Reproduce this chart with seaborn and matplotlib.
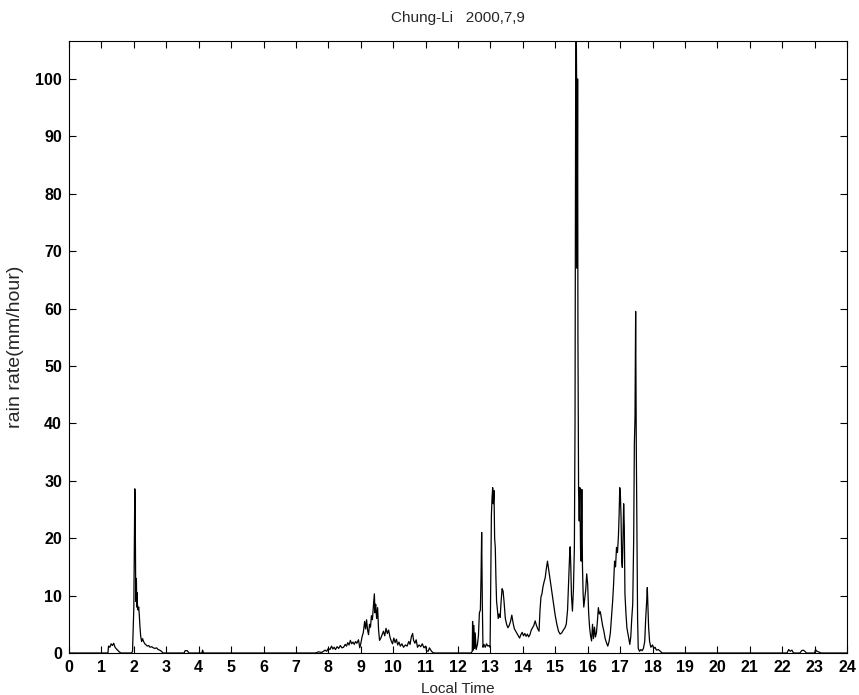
import matplotlib
matplotlib.use("Agg")
import matplotlib.pyplot as plt
import numpy as np
import pandas as pd
import seaborn as sns

# Rain-rate record, Chung-Li, 9 July 2000 (local time in hours, rate in mm/hour)
quiet_start_time = [0.00, 1.05, 1.20]
quiet_start_rate = [0.0, 0.0, 0.0]

early_shower_time = [1.22, 1.26, 1.30, 1.34, 1.38, 1.42, 1.48, 1.55, 1.60]
early_shower_rate = [1.2, 1.0, 1.6, 1.3, 1.7, 1.0, 0.6, 0.2, 0.0]

night_storm_time = [1.93, 1.96, 1.98, 2.00, 2.02, 2.03, 2.04, 2.05, 2.06, 2.07,
                    2.08, 2.09, 2.10, 2.11, 2.13, 2.15, 2.17, 2.19, 2.21, 2.24,
                    2.27, 2.30, 2.34, 2.38, 2.42, 2.46, 2.50, 2.55, 2.60, 2.65,
                    2.70, 2.75, 2.80, 2.85, 2.90]
night_storm_rate = [0.0, 0.3, 4.5, 8.0, 22.0, 28.6, 27.0, 18.0, 9.0, 13.0,
                    12.5, 8.0, 10.5, 8.5, 7.5, 8.0, 6.5, 4.5, 3.0, 2.0,
                    2.5, 2.0, 1.6, 1.4, 1.2, 1.3, 1.0, 1.1, 0.9, 0.8,
                    0.9, 0.6, 0.5, 0.3, 0.0]

drizzle_time = [3.55, 3.58, 3.65, 3.70, 4.10, 4.12, 4.15, 7.60]
drizzle_rate = [0.0, 0.4, 0.4, 0.0, 0.0, 0.5, 0.0, 0.0]

morning_time = [7.70, 7.80, 7.90, 7.95, 8.00, 8.05, 8.10, 8.14, 8.18, 8.22,
                8.27, 8.32, 8.37, 8.42, 8.47, 8.52, 8.56, 8.60, 8.64, 8.68,
                8.72, 8.76, 8.80, 8.84, 8.88, 8.93, 8.97, 9.00, 9.04, 9.08,
                9.12, 9.15, 9.18, 9.21, 9.24, 9.27, 9.30, 9.33, 9.36, 9.39,
                9.42, 9.44, 9.46, 9.49, 9.52, 9.55, 9.58, 9.62, 9.66, 9.70,
                9.74, 9.78, 9.82, 9.86, 9.90, 9.94, 9.98, 10.02, 10.06, 10.10,
                10.14, 10.18, 10.22, 10.27, 10.32, 10.38, 10.43, 10.48, 10.52, 10.56,
                10.60, 10.63, 10.67, 10.71, 10.75, 10.80, 10.85, 10.90, 10.95, 11.00,
                11.03, 11.08, 11.12, 11.16, 11.20, 11.25]
morning_rate = [0.2, 0.1, 0.5, 0.3, 0.8, 0.6, 1.2, 0.7, 1.0, 0.6,
                1.1, 0.8, 1.3, 0.9, 1.0, 1.5, 1.2, 1.8, 1.4, 2.2,
                1.6, 1.9, 1.5, 2.0, 1.7, 2.3, 0.9, 1.6, 2.8, 3.6,
                5.5, 4.2, 5.8, 4.0, 3.2, 5.0, 4.5, 6.5, 5.8, 8.2,
                10.3, 7.0, 8.5, 6.0, 7.9, 4.0, 2.2, 2.6, 3.2, 3.8,
                3.0, 4.3, 3.4, 4.0, 2.8, 2.1, 1.6, 2.6, 1.8, 2.4,
                1.4, 1.9, 1.2, 1.6, 1.0, 1.4, 1.2, 2.0, 1.5, 2.8,
                3.4, 2.2, 1.7, 2.3, 1.0, 1.4, 1.1, 1.6, 0.9, 1.2,
                0.4, 0.3, 0.9, 0.5, 0.2, 0.0]

afternoon_time = [12.40, 12.44, 12.45, 12.47, 12.49, 12.51, 12.53, 12.56, 12.60, 12.63,
                  12.66, 12.69, 12.71, 12.73, 12.75, 12.77, 12.80, 12.84, 12.88, 12.92,
                  12.96, 12.99, 13.01, 13.03, 13.05, 13.07, 13.09, 13.11, 13.13, 13.15,
                  13.17, 13.19, 13.21, 13.24, 13.27, 13.30, 13.33, 13.36, 13.39, 13.42,
                  13.46, 13.50, 13.54, 13.58, 13.62, 13.66, 13.70, 13.74, 13.78, 13.82,
                  13.86, 13.90, 13.94, 13.98, 14.02, 14.06, 14.10, 14.14, 14.18, 14.22,
                  14.26, 14.30, 14.34, 14.38, 14.42, 14.46, 14.50, 14.53, 14.56, 14.59,
                  14.62, 14.66, 14.69, 14.72, 14.76, 14.79, 14.83, 14.87, 14.91, 14.95,
                  15.00, 15.05, 15.10, 15.15, 15.20, 15.25, 15.30, 15.34, 15.38, 15.41,
                  15.44, 15.46, 15.48, 15.50, 15.53, 15.56, 15.59, 15.61, 15.63, 15.645,
                  15.66, 15.675, 15.69, 15.70, 15.72, 15.74, 15.76, 15.78, 15.80, 15.82,
                  15.84, 15.86, 15.88, 15.91, 15.94, 15.97, 16.00, 16.03, 16.06, 16.09,
                  16.12, 16.15, 16.18, 16.21, 16.24, 16.27, 16.30, 16.33, 16.36, 16.39,
                  16.42, 16.46, 16.50, 16.54, 16.58, 16.62, 16.66, 16.70, 16.74, 16.77,
                  16.80, 16.83, 16.86, 16.89, 16.92, 16.95, 16.97, 16.99, 17.01, 17.03,
                  17.05, 17.07, 17.09, 17.11, 17.13, 17.15, 17.18, 17.21, 17.24, 17.27,
                  17.30, 17.33, 17.36, 17.39, 17.42, 17.44, 17.46, 17.48, 17.50, 17.52,
                  17.54, 17.56, 17.60, 17.64, 17.68, 17.72, 17.76, 17.79, 17.82, 17.84,
                  17.86, 17.88, 17.91, 17.95, 18.00, 18.04, 18.08, 18.12, 18.18, 18.24,
                  18.30]
afternoon_rate = [0.0, 0.3, 5.5, 0.5, 4.8, 0.8, 3.5, 0.6, 1.5, 3.0,
                  7.0, 7.5, 13.0, 21.0, 9.0, 1.0, 1.5, 1.0, 1.6, 1.2,
                  1.3, 1.0, 13.0, 24.0, 27.0, 28.8, 26.0, 28.3, 20.0, 18.4,
                  13.0, 9.0, 7.9, 6.0, 6.8, 6.2, 9.0, 11.2, 10.8, 9.0,
                  6.0, 5.0, 4.4, 4.8, 5.5, 6.6, 5.2, 4.2, 3.8, 3.4,
                  3.0, 2.6, 3.2, 3.6, 3.0, 3.4, 2.9, 3.3, 2.8, 3.2,
                  4.0, 4.4, 4.8, 5.6, 4.8, 4.2, 3.8, 7.5, 9.8, 10.3,
                  11.5, 12.5, 13.1, 14.5, 16.0, 14.8, 13.2, 11.5, 10.0, 8.5,
                  6.5, 5.0, 3.8, 3.3, 3.5, 4.0, 4.4, 5.0, 7.5, 12.0,
                  16.6, 18.5, 15.0, 10.0, 7.3, 11.0, 18.4, 40.0, 100.0, 112.0,
                  99.0, 67.0, 100.0, 55.0, 28.0, 23.0, 28.8, 18.0, 16.0, 28.5,
                  15.0, 10.3, 8.0, 9.5, 11.0, 13.8, 12.0, 7.0, 4.4, 3.0,
                  2.1, 5.0, 2.5, 4.5, 2.8, 3.5, 5.5, 7.9, 6.8, 7.2,
                  6.2, 4.8, 3.8, 2.5, 1.8, 1.2, 2.0, 3.5, 6.6, 9.0,
                  12.0, 16.0, 15.0, 18.4, 17.5, 20.5, 24.0, 28.8, 27.5, 23.6,
                  16.0, 14.9, 20.0, 26.0, 22.0, 10.3, 7.0, 4.4, 3.5, 2.5,
                  1.5, 2.8, 6.0, 8.5, 20.0, 36.4, 41.0, 59.5, 36.0, 20.0,
                  6.0, 0.8, 0.3, 0.6, 0.4, 0.8, 2.0, 6.0, 9.0, 11.4,
                  8.0, 4.5, 2.0, 1.0, 1.4, 0.8, 1.0, 0.5, 0.6, 0.3,
                  0.0]

late_night_time = [22.15, 22.20, 22.25, 22.30, 22.35, 22.55, 22.60, 22.65, 22.70, 22.75,
                   23.00, 23.03, 23.07, 23.12, 23.20, 24.00]
late_night_rate = [0.0, 0.6, 0.3, 0.5, 0.0, 0.0, 0.4, 0.5, 0.3, 0.0,
                   0.0, 0.6, 0.3, 0.2, 0.0, 0.0]

hour_ticks = list(range(0, 25))
rate_ticks = list(range(0, 101, 10))

record = pd.DataFrame({
    "time": quiet_start_time + early_shower_time + night_storm_time + drizzle_time
            + morning_time + afternoon_time + late_night_time,
    "rate": quiet_start_rate + early_shower_rate + night_storm_rate + drizzle_rate
            + morning_rate + afternoon_rate + late_night_rate,
})

sns.set_style("ticks")
plt.rcParams["font.family"] = ["Liberation Sans", "DejaVu Sans"]

fig = plt.figure(figsize=(8.59, 6.95), dpi=100)
ax = fig.add_axes([69 / 859, 1 - 653 / 695, (847 - 69) / 859, (653 - 40.5) / 695])

sns.lineplot(data=record, x="time", y="rate", ax=ax, color="black",
             linewidth=0.9, estimator=None, sort=False)

ax.set_xlim(0, 24)
ax.set_ylim(0, 106.7)
ax.set_xticks(hour_ticks)
ax.set_yticks(rate_ticks)
ax.tick_params(direction="in", top=True, right=True, length=5, width=0.8,
               labelsize=11.5, colors="black", pad=5)
for lab in ax.get_xticklabels() + ax.get_yticklabels():
    lab.set_fontweight("bold")
for spine in ax.spines.values():
    spine.set_visible(True)
    spine.set_linewidth(0.8)
    spine.set_color("black")

ax.set_title("Chung-Li   2000,7,9", fontsize=11, pad=13)
ax.set_xlabel("Local Time", fontsize=11, labelpad=5)
ax.set_ylabel("rain rate(mm/hour)", fontsize=14, labelpad=8)

fig.savefig("out.png", dpi=100)
